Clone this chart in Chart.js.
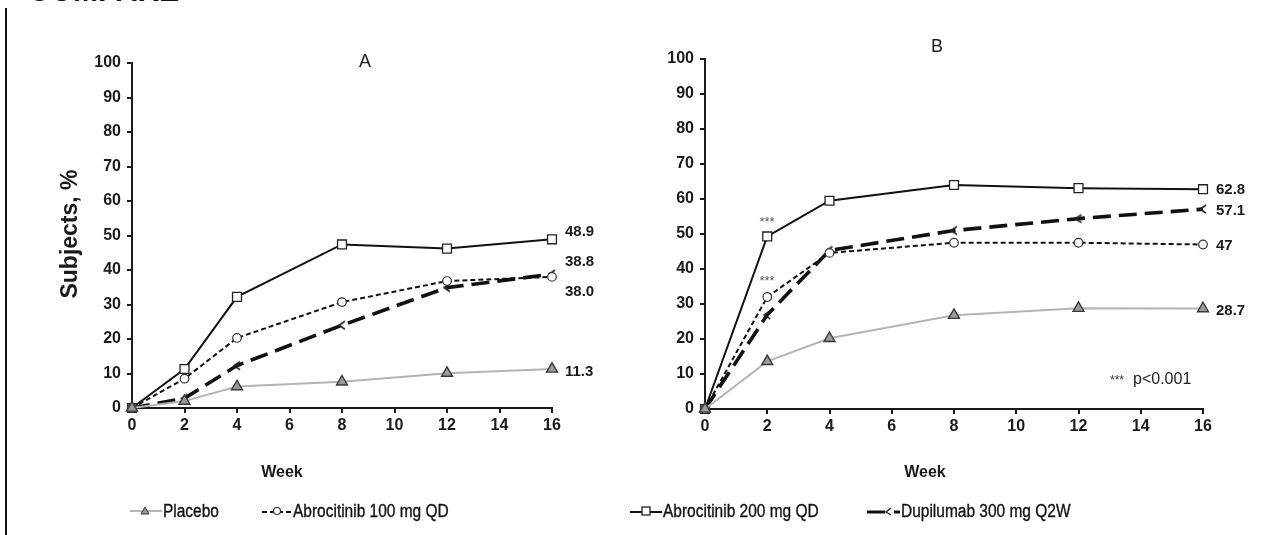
<!DOCTYPE html>
<html>
<head>
<meta charset="utf-8">
<script src="https://cdn.jsdelivr.net/npm/chart.js@4.4.1/dist/chart.umd.min.js"></script>
<style>
  body { margin: 0; background: #fff; width: 1275px; height: 535px; overflow: hidden; position: relative;
         font-family: "Liberation Sans", Arial, sans-serif; }
  #cutTitle { position: absolute; left: 28px; top: -24px; font: bold 30px/30px "Liberation Sans", Arial, sans-serif; color: #111; }
  #leftRule { position: absolute; left: 5px; top: 8px; width: 2px; height: 527px; background: #111; }
  #chartA { position: absolute; left: 0; top: 0; }
  #chartB { position: absolute; left: 640px; top: 0; }
  .leg { position: absolute; top: 499px; height: 24px; display: flex; align-items: center;
         font: 18px "Liberation Sans Narrow", "Liberation Sans", Arial, sans-serif; color: #111; white-space: nowrap; }
  .leg svg { margin-right: 1px; flex: none; }
  .leg span { display: inline-block; transform: scaleX(0.86); transform-origin: left center;
              -webkit-text-stroke: 0.35px #111; }
</style>
</head>
<body>
<div id="cutTitle">COMPARE</div>
<div id="leftRule"></div>
<canvas id="chartA" width="640" height="535"></canvas>
<canvas id="chartB" width="635" height="535"></canvas>
<div id="legend"></div>

<script>
// ─── Data ────────────────────────────────────────────────────────────────────
const weeks = [0, 2, 4, 8, 12, 16];
const seriesNames = ["Placebo", "Abrocitinib 100 mg QD", "Abrocitinib 200 mg QD", "Dupilumab 300 mg Q2W"];

// Panel A
const placeboA = [0, 2.0, 6.2, 7.6, 10.1, 11.3];
const abro100A = [0, 8.5, 20.3, 30.7, 36.8, 38.0];
const abro200A = [0, 11.3, 32.2, 47.4, 46.2, 48.9];
const dupiA    = [0, 2.8, 12.3, 24.0, 34.9, 38.8];
const endLabelsA = ["11.3", "38.0", "48.9", "38.8"];

// Panel B
const placeboB = [0, 13.6, 20.2, 26.8, 28.8, 28.7];
const abro100B = [0, 32.0, 44.6, 47.5, 47.5, 47.0];
const abro200B = [0, 49.3, 59.5, 64.0, 63.1, 62.8];
const dupiB    = [0, 26.9, 45.3, 51.0, 54.4, 57.1];
const endLabelsB = ["28.7", "47", "62.8", "57.1"];

// vertical nudges of the end labels so they don't collide (px)
const labelNudgeA = [3, 15, -7, -12];
const labelNudgeB = [2, 1, 1, 2];

// ─── Styling ─────────────────────────────────────────────────────────────────
const TICK_FONT = { family: "'Liberation Sans', Arial, sans-serif", size: 16, weight: "bold" };
const INK = "#1a1a1a";

// small "<" shaped marker used for dupilumab
function makeChevron() {
    const c = document.createElement("canvas");
    c.width = 12; c.height = 12;
    const g = c.getContext("2d");
    g.strokeStyle = "#222";
    g.lineWidth = 1.6;
    g.beginPath();
    g.moveTo(9, 2); g.lineTo(3, 6); g.lineTo(9, 10);
    g.stroke();
    return c;
}
const chevron = makeChevron();

function datasets(placebo, abro100, abro200, dupi) {
    const xy = (arr) => arr.map((v, i) => ({ x: weeks[i], y: v }));
    return [
        { label: seriesNames[0], data: xy(placebo), borderColor: "#b4b4b4", borderWidth: 2,
          pointStyle: "triangle", pointRadius: 6.3, pointBackgroundColor: "#9a9a9a",
          pointBorderColor: "#3a3a3a", pointBorderWidth: 1.4 },
        { label: seriesNames[1], data: xy(abro100), borderColor: "#111", borderWidth: 2, borderDash: [5, 3],
          pointStyle: "circle", pointRadius: 4.3, pointBackgroundColor: "#fff",
          pointBorderColor: "#333", pointBorderWidth: 1.2 },
        { label: seriesNames[2], data: xy(abro200), borderColor: "#111", borderWidth: 2,
          pointStyle: "rect", pointRadius: 6.3, pointBackgroundColor: "#fff",
          pointBorderColor: "#222", pointBorderWidth: 1.3 },
        { label: seriesNames[3], data: xy(dupi), borderColor: "#111", borderWidth: 3.6, borderDash: [18, 8],
          pointStyle: chevron, pointRadius: 6 },
    ].map((d) => Object.assign(d, { clip: false }));
}

// draws free text (titles, end labels, notes) onto the chart canvas
const textPlugin = {
    id: "freeText",
    afterDatasetsDraw(chart, args, opts) {
        const ctx = chart.ctx;
        const { x, y } = chart.scales;
        ctx.save();
        ctx.fillStyle = INK;
        ctx.textBaseline = "middle";

        // values at week 16
        ctx.font = "bold 15px 'Liberation Sans', Arial, sans-serif";
        ctx.textAlign = "left";
        chart.data.datasets.forEach((ds, i) => {
            const last = ds.data[ds.data.length - 1];
            ctx.fillText(opts.endLabels[i], x.getPixelForValue(last.x) + 13,
                         y.getPixelForValue(last.y) + opts.nudge[i]);
        });

        (opts.texts || []).forEach((t) => {
            ctx.save();
            ctx.font = t.font;
            ctx.fillStyle = t.color || INK;
            ctx.textAlign = t.align || "center";
            ctx.translate(t.x, t.y);
            if (t.rotate) ctx.rotate(t.rotate);
            ctx.fillText(t.text, 0, 0);
            ctx.restore();
        });
        ctx.restore();
    },
};

function makeOptions(pad, textOpts) {
    return {
        responsive: false,
        devicePixelRatio: 1,
        animation: false,
        layout: { padding: pad },
        plugins: { legend: { display: false }, tooltip: { enabled: false }, freeText: textOpts },
        scales: {
            x: {
                type: "linear", min: 0, max: 16,
                afterFit: (s) => { s.height = 30; },
                ticks: { stepSize: 2, color: INK, font: TICK_FONT, padding: 3, maxRotation: 0 },
                grid: { drawOnChartArea: false, drawTicks: true, tickLength: 5, color: INK, lineWidth: 2 },
                border: { display: true, color: INK, width: 2 },
            },
            y: {
                min: 0, max: 100,
                afterFit: (s) => { s.width = 60; },
                ticks: { stepSize: 10, color: INK, font: TICK_FONT, padding: 6 },
                grid: { drawOnChartArea: false, drawTicks: true, tickLength: 5, color: INK, lineWidth: 2 },
                border: { display: true, color: INK, width: 2 },
            },
        },
    };
}

const chartA = new Chart(document.getElementById("chartA"), {
    type: "line",
    data: { datasets: datasets(placeboA, abro100A, abro200A, dupiA) },
    options: makeOptions({ left: 72, right: 88, top: 63, bottom: 97 }, {
        endLabels: endLabelsA, nudge: labelNudgeA,
        texts: [
            { text: "A", x: 365, y: 62, font: "18px 'Liberation Sans', Arial, sans-serif" },
            { text: "Week", x: 282, y: 473, font: "bold 16px 'Liberation Sans', Arial, sans-serif" },
            { text: "Subjects, %", x: 71, y: 234, rotate: -Math.PI / 2,
              font: "bold 23px 'Liberation Sans', Arial, sans-serif" },
        ],
    }),
    plugins: [textPlugin],
});

const chartB = new Chart(document.getElementById("chartB"), {
    type: "line",
    data: { datasets: datasets(placeboB, abro100B, abro200B, dupiB) },
    options: makeOptions({ left: 5, right: 72, top: 59, bottom: 96 }, {
        endLabels: endLabelsB, nudge: labelNudgeB,
        texts: [
            { text: "B", x: 297, y: 47, font: "18px 'Liberation Sans', Arial, sans-serif" },
            { text: "Week", x: 285, y: 473, font: "bold 16px 'Liberation Sans', Arial, sans-serif" },
            { text: "***", x: 127, y: 222, color: "#555", font: "13px 'Liberation Sans', Arial, sans-serif" },
            { text: "***", x: 127, y: 281, color: "#555", font: "13px 'Liberation Sans', Arial, sans-serif" },
            { text: "***", x: 470, y: 381, align: "left", color: "#333",
              font: "12px 'Liberation Sans', Arial, sans-serif" },
            { text: "p<0.001", x: 493, y: 380, align: "left", color: "#222",
              font: "16px 'Liberation Sans', Arial, sans-serif" },
        ],
    }),
    plugins: [textPlugin],
});

// ─── Legend (HTML, spans both panels) ────────────────────────────────────────
const legendLeft = [130, 262, 630, 867];
const legendSamples = [
    '<svg width="32" height="14"><line x1="0" y1="7" x2="32" y2="7" stroke="#b4b4b4" stroke-width="2"/>' +
    '<polygon points="15,3 19,10 11,10" fill="#9a9a9a" stroke="#333" stroke-width="1"/></svg>',
    '<svg width="30" height="14"><line x1="0" y1="8" x2="30" y2="8" stroke="#111" stroke-width="2" stroke-dasharray="5,3"/>' +
    '<circle cx="15" cy="7" r="3.5" fill="#fff" stroke="#333" stroke-width="1.2"/></svg>',
    '<svg width="32" height="14"><line x1="0" y1="8" x2="32" y2="8" stroke="#111" stroke-width="2"/>' +
    '<rect x="12" y="3" width="8" height="8" fill="#fff" stroke="#222" stroke-width="1.3"/></svg>',
    '<svg width="33" height="14"><line x1="0" y1="8" x2="18" y2="8" stroke="#111" stroke-width="3"/>' +
    '<polyline points="24,4 19,8 24,11" fill="none" stroke="#222" stroke-width="1.4"/>' +
    '<line x1="27" y1="8" x2="33" y2="8" stroke="#111" stroke-width="3"/></svg>',
];
const legendEl = document.getElementById("legend");
seriesNames.forEach((name, i) => {
    const d = document.createElement("div");
    d.className = "leg";
    d.style.left = legendLeft[i] + "px";
    d.innerHTML = legendSamples[i] + "<span>" + name + "</span>";
    legendEl.appendChild(d);
});
</script>
</body>
</html>
